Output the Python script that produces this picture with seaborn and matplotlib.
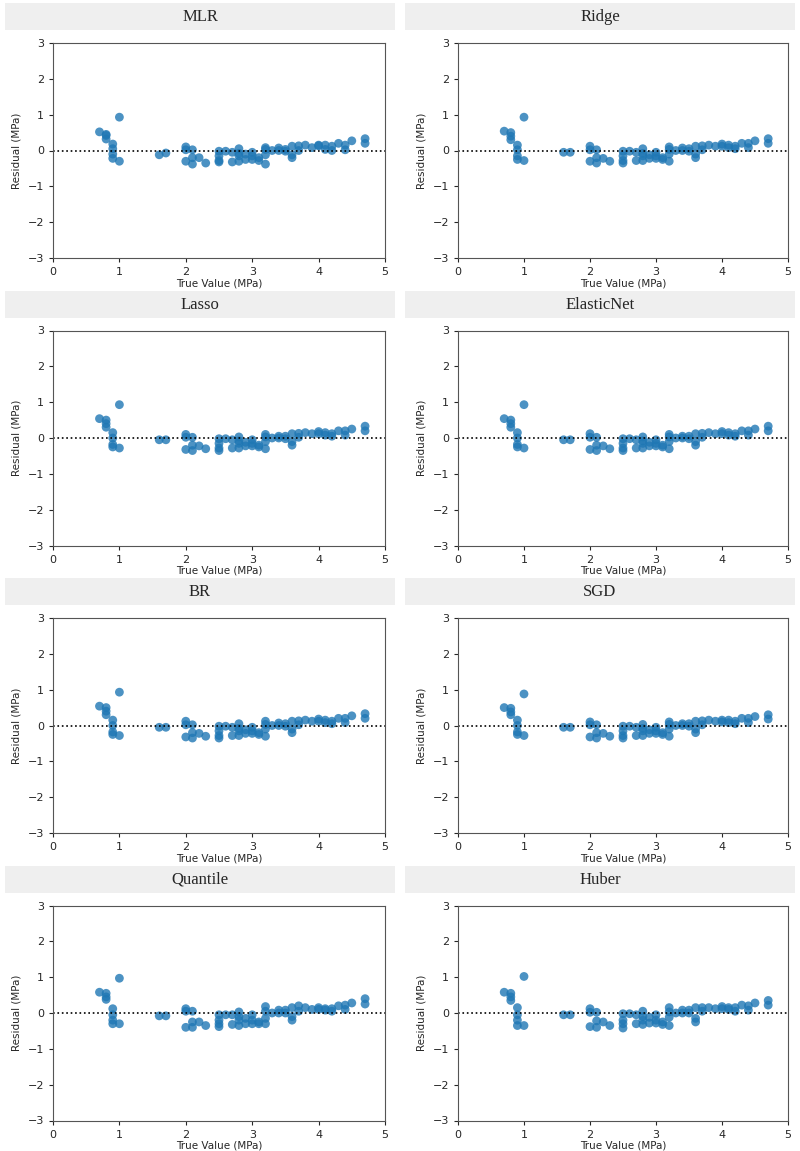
import matplotlib
matplotlib.use("Agg")
import matplotlib.pyplot as plt
import seaborn as sns
import pandas as pd
from matplotlib.patches import Rectangle

sns.set_style("ticks")
plt.rcParams['font.family'] = ['DejaVu Sans']

models = ["MLR", "Ridge", "Lasso", "ElasticNet", "BR", "SGD", "Quantile", "Huber"]

true_vals = [0.7, 0.8, 0.8, 0.8, 0.9, 0.9, 0.9, 0.9, 1.0, 1.0, 1.6, 1.7,
             2.0, 2.0, 2.0, 2.1, 2.1, 2.1, 2.2, 2.3, 2.5, 2.5, 2.5, 2.5, 2.6,
             2.7, 2.7, 2.8, 2.8, 2.8, 2.8, 2.9, 2.9, 3.0, 3.0, 3.0, 3.1, 3.1,
             3.2, 3.2, 3.2, 3.2, 3.3, 3.4, 3.4, 3.5, 3.5, 3.6, 3.6, 3.6, 3.7, 3.7,
             3.8, 3.9, 4.0, 4.0, 4.1, 4.1, 4.2, 4.2, 4.3, 4.4, 4.4, 4.5, 4.7, 4.7]

res_mlr = [0.52, 0.45, 0.42, 0.32, 0.18, 0.05, -0.10, -0.22, 0.93, -0.30, -0.12, -0.07,
           0.10, 0.02, -0.30, 0.02, -0.20, -0.38, -0.20, -0.35, -0.02, -0.15, -0.28, -0.32, -0.02,
           -0.05, -0.32, 0.05, -0.08, -0.15, -0.30, -0.10, -0.25, -0.05, -0.15, -0.25, -0.20, -0.28,
           0.08, 0.03, -0.12, -0.38, 0.00, 0.07, 0.00, 0.03, -0.02, 0.12, -0.12, -0.20, 0.13, 0.00,
           0.15, 0.08, 0.15, 0.13, 0.15, 0.03, 0.12, 0.00, 0.20, 0.15, 0.02, 0.27, 0.33, 0.20]
res_ridge = [0.54, 0.50, 0.40, 0.30, 0.15, 0.02, -0.15, -0.25, 0.93, -0.28, -0.05, -0.05,
             0.12, 0.02, -0.30, 0.02, -0.20, -0.35, -0.22, -0.30, -0.02, -0.15, -0.28, -0.35, -0.02,
             -0.05, -0.28, 0.05, -0.08, -0.15, -0.28, -0.12, -0.22, -0.05, -0.15, -0.22, -0.20, -0.25,
             0.10, 0.03, -0.10, -0.30, 0.00, 0.07, 0.00, 0.05, -0.02, 0.12, -0.10, -0.20, 0.13, 0.02,
             0.15, 0.12, 0.18, 0.12, 0.15, 0.08, 0.12, 0.05, 0.20, 0.20, 0.08, 0.27, 0.33, 0.20]
res_lasso = [0.54, 0.50, 0.40, 0.30, 0.15, 0.00, -0.18, -0.25, 0.93, -0.28, -0.05, -0.05,
             0.10, 0.02, -0.32, 0.02, -0.20, -0.35, -0.22, -0.30, -0.02, -0.15, -0.28, -0.35, -0.02,
             -0.05, -0.28, 0.03, -0.08, -0.15, -0.28, -0.12, -0.22, -0.05, -0.15, -0.22, -0.20, -0.25,
             0.10, 0.03, -0.10, -0.30, 0.00, 0.05, 0.00, 0.05, -0.02, 0.12, -0.10, -0.20, 0.13, 0.02,
             0.15, 0.12, 0.18, 0.12, 0.15, 0.08, 0.12, 0.05, 0.20, 0.20, 0.08, 0.25, 0.33, 0.20]
res_enet = [0.54, 0.50, 0.40, 0.30, 0.15, 0.00, -0.18, -0.25, 0.93, -0.28, -0.05, -0.05,
            0.12, 0.02, -0.32, 0.02, -0.20, -0.35, -0.22, -0.30, -0.02, -0.15, -0.28, -0.35, -0.02,
            -0.05, -0.28, 0.03, -0.08, -0.15, -0.28, -0.12, -0.22, -0.05, -0.15, -0.22, -0.20, -0.25,
            0.10, 0.03, -0.10, -0.30, 0.00, 0.05, 0.00, 0.05, -0.02, 0.12, -0.10, -0.20, 0.13, 0.02,
            0.15, 0.12, 0.18, 0.12, 0.15, 0.08, 0.12, 0.05, 0.20, 0.20, 0.08, 0.25, 0.33, 0.20]
res_br = [0.54, 0.50, 0.40, 0.30, 0.15, 0.00, -0.18, -0.25, 0.93, -0.28, -0.05, -0.05,
          0.12, 0.02, -0.32, 0.02, -0.20, -0.35, -0.22, -0.30, -0.02, -0.15, -0.28, -0.35, -0.02,
          -0.05, -0.28, 0.05, -0.08, -0.15, -0.28, -0.12, -0.22, -0.05, -0.15, -0.22, -0.20, -0.25,
          0.12, 0.03, -0.10, -0.30, 0.00, 0.07, 0.00, 0.05, -0.02, 0.12, -0.10, -0.20, 0.13, 0.02,
          0.15, 0.12, 0.18, 0.12, 0.15, 0.08, 0.12, 0.05, 0.20, 0.20, 0.08, 0.27, 0.33, 0.20]
res_sgd = [0.50, 0.48, 0.38, 0.30, 0.15, 0.00, -0.18, -0.25, 0.88, -0.28, -0.05, -0.05,
           0.10, 0.02, -0.32, 0.02, -0.20, -0.35, -0.22, -0.30, -0.02, -0.15, -0.28, -0.35, -0.02,
           -0.05, -0.28, 0.03, -0.08, -0.15, -0.28, -0.12, -0.22, -0.05, -0.15, -0.22, -0.20, -0.25,
           0.10, 0.03, -0.10, -0.30, 0.00, 0.05, 0.00, 0.05, -0.02, 0.12, -0.10, -0.20, 0.13, 0.02,
           0.15, 0.12, 0.15, 0.10, 0.15, 0.08, 0.12, 0.05, 0.20, 0.20, 0.08, 0.25, 0.30, 0.18]
res_quant = [0.58, 0.55, 0.45, 0.38, 0.12, -0.05, -0.20, -0.30, 0.97, -0.30, -0.08, -0.08,
             0.12, 0.05, -0.40, 0.05, -0.25, -0.40, -0.25, -0.35, -0.05, -0.20, -0.30, -0.38, -0.05,
             -0.05, -0.32, 0.03, -0.10, -0.20, -0.35, -0.15, -0.30, -0.05, -0.20, -0.30, -0.25, -0.30,
             0.18, 0.05, -0.15, -0.30, 0.00, 0.08, 0.00, 0.08, 0.00, 0.15, -0.10, -0.20, 0.20, 0.05,
             0.15, 0.10, 0.15, 0.10, 0.12, 0.08, 0.12, 0.05, 0.20, 0.22, 0.10, 0.28, 0.40, 0.25]
res_huber = [0.58, 0.55, 0.45, 0.35, 0.15, -0.05, -0.20, -0.35, 1.02, -0.35, -0.05, -0.05,
             0.12, 0.02, -0.38, 0.02, -0.22, -0.40, -0.25, -0.35, -0.02, -0.20, -0.30, -0.42, -0.02,
             -0.05, -0.30, 0.05, -0.10, -0.20, -0.32, -0.12, -0.28, -0.05, -0.20, -0.28, -0.25, -0.32,
             0.15, 0.03, -0.12, -0.35, 0.00, 0.08, 0.00, 0.08, 0.00, 0.15, -0.15, -0.25, 0.15, 0.05,
             0.15, 0.12, 0.18, 0.12, 0.15, 0.10, 0.15, 0.05, 0.22, 0.20, 0.08, 0.28, 0.35, 0.22]

residuals = [res_mlr, res_ridge, res_lasso, res_enet, res_br, res_sgd, res_quant, res_huber]

W, H = 800, 1151
fig = plt.figure(figsize=(W / 100, H / 100), dpi=100)
row_h = 287.5
for i, (name, res) in enumerate(zip(models, residuals)):
    r, c = divmod(i, 2)
    y0 = r * row_h
    bx0 = 5 if c == 0 else 405
    fig.patches.append(Rectangle(((bx0) / W, 1 - (y0 + 30) / H), 390 / W, 27 / H,
                                 transform=fig.transFigure, facecolor="#efefef",
                                 edgecolor="none", zorder=0))
    fig.text((bx0 + 195) / W, 1 - (y0 + 17) / H, name, ha="center", va="center",
             family="Liberation Serif", fontsize=12)
    ax0 = 53 if c == 0 else 458
    ax1 = 385 if c == 0 else 788
    top = y0 + 43
    bot = y0 + 258
    ax = fig.add_axes([ax0 / W, 1 - bot / H, (ax1 - ax0) / W, (bot - top) / H])
    df = pd.DataFrame({"true": true_vals, "res": res})
    sns.scatterplot(data=df, x="true", y="res", ax=ax, color="#1f77b4", alpha=0.8,
                    s=40, edgecolor="none")
    ax.axhline(0, color="black", linestyle=":", linewidth=1.2)
    ax.set_xlim(0, 5)
    ax.set_ylim(-3, 3)
    ax.set_xticks(range(0, 6))
    ax.set_yticks(range(-3, 4))
    ax.tick_params(labelsize=8, length=3)
    ax.set_xlabel("True Value (MPa)", fontsize=7.5, labelpad=1)
    ax.set_ylabel("Residual (MPa)", fontsize=7.5)
    for s in ax.spines.values():
        s.set_visible(True)
        s.set_color("#555555")

fig.savefig("out.png", dpi=100)
